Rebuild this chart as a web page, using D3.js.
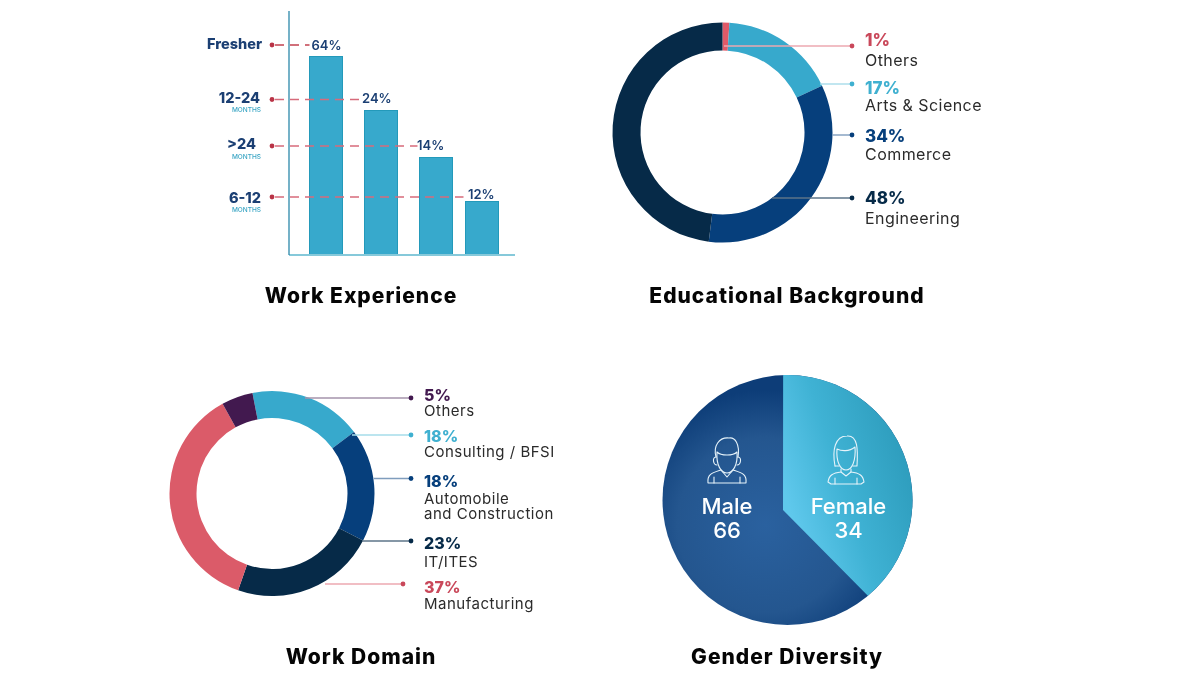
<!DOCTYPE html>
<html>
<head>
<meta charset="utf-8">
<script src="https://cdn.jsdelivr.net/npm/d3@7/dist/d3.min.js"></script>
<style>
html,body{margin:0;padding:0;background:#fff;}
svg{display:block;filter:blur(0.35px);}
text{font-family:Inter,"Open Sans",sans-serif;}
</style>
</head>
<body>
<svg id="c" width="1200" height="675"></svg>
<script>
// ---- data ----
const expCategories = ["Fresher", "12-24", ">24", "6-12"];
const expSubLabels = ["", "MONTHS", "MONTHS", "MONTHS"];
const expValues = [64, 24, 14, 12];

const eduCategories = ["Others", "Arts & Science", "Commerce", "Engineering"];
const eduValues = [1, 17, 34, 48];

const domainCategories = ["Consulting / BFSI", "Automobile|and Construction", "IT/ITES", "Manufacturing", "Others"];
const domainValues = [18, 18, 23, 37, 5];

const genderCategories = ["Female", "Male"];
const genderValues = [34, 66];

const titles = ["Work Experience", "Educational Background", "Work Domain", "Gender Diversity"];

// ---- styling ----
const NAVY = "#1b3f73", TEAL = "#37a9cc", RED = "#d9566a", DEEP = "#062a48", BLUE = "#063f7c", PURPLE = "#42194f";
const svg = d3.select("#c");
const defs = svg.append("defs");

const rg = defs.append("radialGradient").attr("id","male").attr("gradientUnits","userSpaceOnUse")
  .attr("cx",765).attr("cy",525).attr("r",135);
rg.append("stop").attr("offset","0").attr("stop-color","#2a619f");
rg.append("stop").attr("offset","0.65").attr("stop-color","#24568f");
rg.append("stop").attr("offset","1").attr("stop-color","#0d3d78");
const lg = defs.append("linearGradient").attr("id","female").attr("gradientUnits","userSpaceOnUse")
  .attr("x1",790).attr("y1",510).attr("x2",912).attr("y2",470);
lg.append("stop").attr("offset","0").attr("stop-color","#5fc8ec");
lg.append("stop").attr("offset","0.45").attr("stop-color","#3fb2d4");
lg.append("stop").attr("offset","1").attr("stop-color","#2e9dbd");

// ---- titles ----
const titlePos = [[361,295],[787,295],[361,656],[787,656]];
svg.selectAll("text.title").data(titles).join("text").attr("class","title")
  .attr("x",(d,i)=>titlePos[i][0]).attr("y",(d,i)=>titlePos[i][1])
  .attr("dy","0.36em").attr("text-anchor","middle")
  .attr("font-size",21).attr("font-weight",800).attr("letter-spacing",1).attr("fill","#050505").text(d=>d);

// ---- bar chart (reference's axis is not to scale, so the scale is piecewise) ----
const yBar = d3.scaleLinear().domain([0,12,14,24,64]).range([255,201.5,157.5,110.5,56.5]);
const xBar = d3.scaleOrdinal().domain(expCategories).range([309.5,364.5,419.5,465.5]);
const barW = 33;
const leaderY = d3.scaleOrdinal().domain(expCategories).range([45,99.5,146,197]);
const labelRight = d3.scaleOrdinal().domain(expCategories).range([262,260,256,261]);
const labelY = d3.scaleOrdinal().domain(expCategories).range([44,98,144,198]);
const monthsY = d3.scaleOrdinal().domain(expCategories).range([0,110,157,210]);
const valueY = d3.scaleOrdinal().domain(expCategories).range([45,98.5,145,194]);
const barG = svg.append("g");

barG.selectAll("rect").data(expCategories).join("rect")
  .attr("x",d=>xBar(d)).attr("width",barW)
  .attr("y",(d,i)=>yBar(expValues[i])).attr("height",(d,i)=>255-yBar(expValues[i]))
  .attr("fill",TEAL).attr("stroke","#2399ba").attr("stroke-width",1);

barG.append("line").attr("x1",289).attr("x2",515).attr("y1",255).attr("y2",255)
  .attr("stroke","#86c9da").attr("stroke-width",2.2);
barG.append("line").attr("x1",289).attr("x2",289).attr("y1",11).attr("y2",255)
  .attr("stroke","#2b88aa").attr("stroke-width",1.3);

barG.selectAll("line.lead").data(expCategories).join("line").attr("class","lead")
  .attr("x1",275).attr("x2",(d,i)=>xBar(d)+(i==0?0:-2))
  .attr("y1",d=>leaderY(d)).attr("y2",d=>leaderY(d))
  .attr("stroke",(d,i)=>i==0?"#c2414f":"#d76b7b")
  .attr("stroke-width",1.4).attr("stroke-dasharray","9 6");
barG.selectAll("circle").data(expCategories).join("circle")
  .attr("cx",272).attr("cy",d=>leaderY(d)).attr("r",2.4).attr("fill","#b93346");

barG.selectAll("text.cat").data(expCategories).join("text").attr("class","cat")
  .attr("x",d=>labelRight(d)).attr("y",d=>labelY(d)).attr("dy","0.36em")
  .attr("text-anchor","end").attr("font-size",14.5).attr("font-weight",800).attr("fill",NAVY).text(d=>d);
barG.selectAll("text.sub").data(expCategories).join("text").attr("class","sub")
  .attr("x",261).attr("y",d=>monthsY(d)).attr("dy","0.36em")
  .attr("text-anchor","end").attr("font-size",6.5).attr("font-weight",500).attr("fill","#3aa5c4")
  .text((d,i)=>expSubLabels[i]);
barG.selectAll("text.val").data(expCategories).join("text").attr("class","val")
  .attr("x",(d,i)=>xBar(d)+[2,-2.5,-2.5,2.5][i]).attr("y",d=>valueY(d)).attr("dy","0.36em")
  .attr("font-size",13).attr("font-weight",600).attr("fill",NAVY)
  .text((d,i)=>expValues[i]+"%");

// ---- helpers ----
function donut(cx,cy,R,r,startDeg,values,colors){
  const pie = d3.pie().sort(null).startAngle(startDeg*Math.PI/180).endAngle((startDeg+360)*Math.PI/180);
  const arc = d3.arc().innerRadius(r).outerRadius(R);
  const g = svg.append("g").attr("transform",`translate(${cx},${cy})`);
  g.selectAll("path").data(pie(values)).join("path").attr("d",arc).attr("fill",(d,i)=>colors[i]);
}
function callouts(rows){
  const g = svg.append("g");
  rows.forEach(o=>{
    g.append("line").attr("x1",o.x0).attr("x2",o.x1).attr("y1",o.y).attr("y2",o.y)
      .attr("stroke",o.line).attr("stroke-width",1.4);
    g.append("circle").attr("cx",o.x1).attr("cy",o.y).attr("r",2.4).attr("fill",o.color);
    g.append("text").attr("x",o.tx).attr("y",o.py).attr("dy","0.36em")
      .attr("font-size",o.ps).attr("font-weight",800).attr("fill",o.color).text(o.pct);
    o.label.split("|").forEach((t,i)=>{
      g.append("text").attr("x",o.tx).attr("y",o.ly+i*15).attr("dy","0.36em")
        .attr("font-size",o.ls).attr("font-weight",400).attr("letter-spacing",o.sp).attr("fill","#2b2b2b").text(t);
    });
  });
}

// ---- educational background ----
const eduColors = ["#e05a68",TEAL,BLUE,DEEP];
donut(722.5,132.5,110,82,0,eduValues,eduColors);
const eduLayout = [
 {y:46,x0:724,x1:852,py:40,ly:60,color:"#c9485a",line:"#eda9b1"},
 {y:84,x0:820,x1:852,py:88,ly:105,color:"#3fb0d0",line:"#a6dcea"},
 {y:135,x0:832,x1:852,py:136,ly:154,color:BLUE,line:"#7f9dbd"},
 {y:198,x0:772,x1:852,py:198,ly:218,color:DEEP,line:"#5d7488"}
];
callouts(eduLayout.map((o,i)=>({...o,tx:865,ps:17,ls:16,sp:0.45,pct:eduValues[i]+"%",label:eduCategories[i]})));

// ---- work domain ----
const domColors = [TEAL,BLUE,DEEP,"#db5b69",PURPLE];
donut(272,493.5,102.5,75.5,-11,domainValues,domColors);
const domLayout = [
 {y:435,x0:352,x1:411,py:436,ly:452,color:"#3fb0d0",line:"#a6dcea"},
 {y:478.5,x0:374,x1:411,py:481,ly:499,color:BLUE,line:"#7f9dbd"},
 {y:541,x0:362,x1:411,py:543,ly:562,color:DEEP,line:"#5d7488"},
 {y:584,x0:325,x1:403,py:587,ly:604,color:"#c9485a",line:"#eda9b1"},
 {y:398,x0:305,x1:411,py:395,ly:411,color:PURPLE,line:"#a493ab"}
];
callouts(domLayout.map((o,i)=>({...o,tx:424,ps:16,ls:15,sp:0.5,pct:domainValues[i]+"%",label:domainCategories[i]})));

// ---- gender diversity ----
const gx=787.5, gy=500, gR=125, apex=[783,510];
const genderAngle = d3.scaleLinear().domain([0,genderValues[0]]).range([-2,140]);
const polar = deg => [gx+gR*Math.sin(deg*Math.PI/180), gy-gR*Math.cos(deg*Math.PI/180)];
svg.append("circle").attr("cx",gx).attr("cy",gy).attr("r",gR).attr("fill","url(#male)");
const p = d3.path();
p.moveTo(apex[0],apex[1]);
p.lineTo(...polar(genderAngle(0)));
p.arc(gx,gy,gR,(genderAngle(0)-90)*Math.PI/180,(genderAngle(genderValues[0])-90)*Math.PI/180);
p.closePath();
svg.append("path").attr("d",p.toString()).attr("fill","url(#female)");

const gLab = [[848.5],[727]];
genderCategories.forEach((c,i)=>{
  svg.append("text").attr("x",gLab[i][0]).attr("y",506).attr("dy","0.36em").attr("text-anchor","middle")
    .attr("font-size",22).attr("font-weight",500).attr("fill","#fff").text(c);
  svg.append("text").attr("x",gLab[i][0]).attr("y",530).attr("dy","0.36em").attr("text-anchor","middle")
    .attr("font-size",22).attr("font-weight",500).attr("fill","#fff").text(genderValues[i]);
});

// icons
const ic = svg.append("g").attr("fill","none").attr("stroke","#e6f3fa").attr("stroke-width",1.1).attr("stroke-linejoin","round").attr("stroke-linecap","round");
const male = ic.append("g").attr("transform","translate(727,460)");
male.append("path").attr("d","M-10,-8 C-11,5 -6,13 0,13 C6,13 11,5 10,-8 C6,-4 -6,-4 -10,-8 Z");
male.append("path").attr("d","M-11,-3 C-14,-14 -8,-23 2,-22 C8,-23 13,-16 11,-3");
male.append("path").attr("d","M-11,-3 C-15,-3 -14,5 -10,5 M11,-3 C15,-3 14,5 10,5");
male.append("path").attr("d","M-19,23 C-20,14 -15,13 -6,10 L0,17 L6,10 C15,13 20,14 19,23 Z");
male.append("path").attr("d","M-13,23 V17 M13,23 V17");
const fem = ic.append("g").attr("transform","translate(846,458)");
fem.append("path").attr("d","M-9,-9 C-5,-7 3,-6 9,-11 C10,3 6,12 0,12 C-6,12 -10,3 -9,-9 Z");
fem.append("path").attr("d","M-11,8 C-14,-8 -11,-22 1,-22 C12,-23 12,-8 11,8 L7,8");
fem.append("path").attr("d","M-11,8 L-7,8");
fem.append("path").attr("d","M-5,11 L-5,14 C-13,15 -17,17 -18,24 L-15,26 H15 L18,24 C17,17 13,15 5,14 L5,11");
fem.append("path").attr("d","M-5,14 L0,18 L5,14 M-11,26 V20 M11,26 V20");
</script>
</body>
</html>
